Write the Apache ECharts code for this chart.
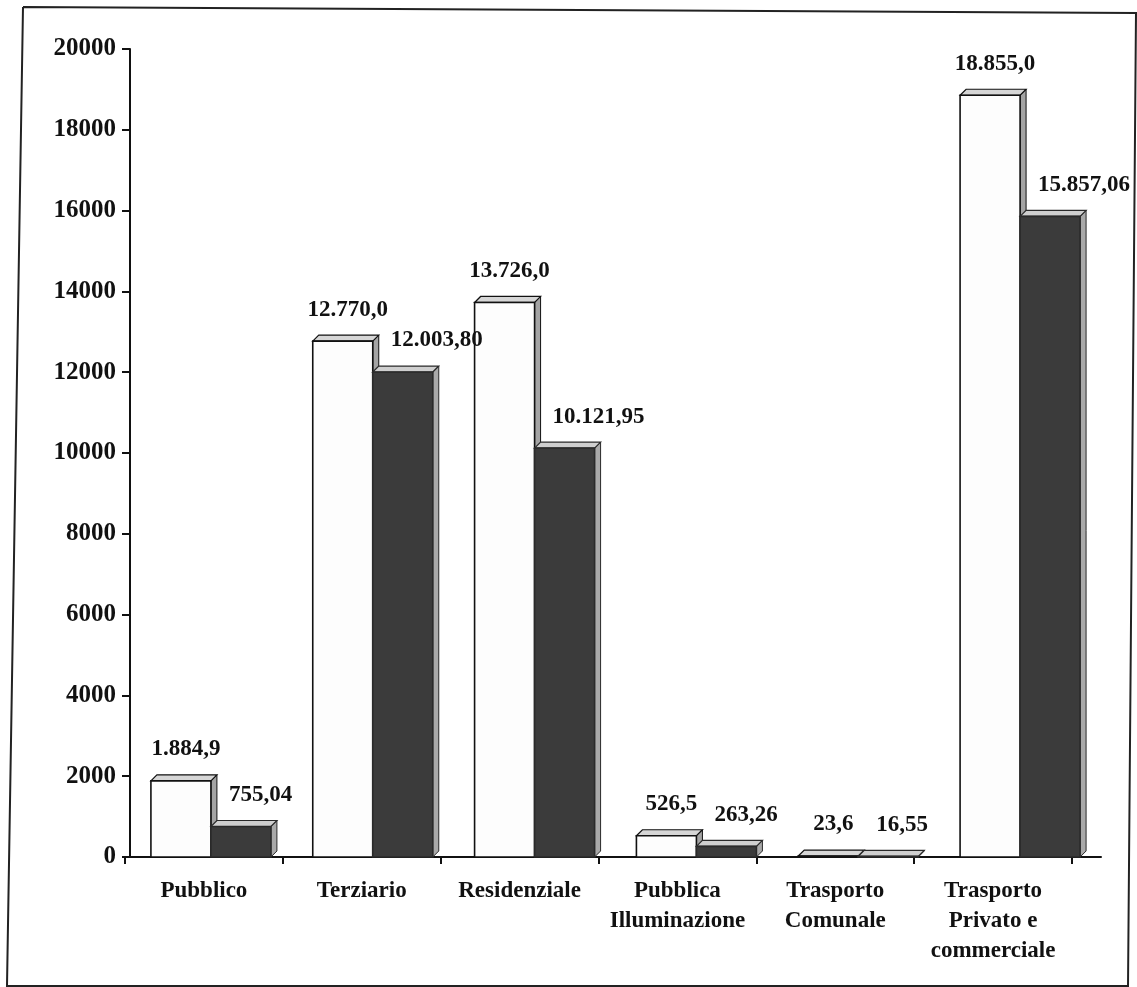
<!DOCTYPE html>
<html>
<head>
<meta charset="utf-8">
<script src="https://cdn.jsdelivr.net/npm/echarts@6/dist/echarts.min.js"></script>
<style>
html,body{margin:0;padding:0;background:#fff}
#chart{width:1137px;height:987px}
</style>
</head>
<body>
<div id="chart"></div>
<script>
// categorie e valori
const categorie = ['Pubblico', 'Terziario', 'Residenziale', 'Pubblica\nIlluminazione', 'Trasporto\nComunale', 'Trasporto\nPrivato e\ncommerciale'];
const valoriChiari = [1884.9, 12770.0, 13726.0, 526.5, 23.6, 18855.0];
const valoriScuri = [755.04, 12003.80, 10121.95, 263.26, 16.55, 15857.06];
const yMin = 0, yMax = 20000, yStep = 2000;

// formato numerico italiano: 12.003,80
function formatIt(v, dec) {
    let parts = v.toFixed(dec).split('.');
    parts[0] = parts[0].replace(/\B(?=(\d{3})+(?!\d))/g, '.');
    return parts.join(',');
}

const serif = '"Liberation Serif", "Times New Roman", serif';
const larghezza = 60;   // larghezza barra
const prof = 6;         // profondità effetto 3D

// barra "3D": fronte, lato destro e faccia superiore + etichetta
function barra3d(spost, fronte, lato, cima, bordo, dec, lab) {
    return function(params, api) {
        var idx = api.value(0);
        var base = api.coord([idx, 0]);
        var alto = api.coord([idx, api.value(1)]);
        var x0 = base[0] + spost - larghezza / 2;
        var x1 = x0 + larghezza;
        var yb = base[1], yt = alto[1];
        return {
            type: 'group',
            children: [{
                type: 'polygon',
                shape: { points: [[x1, yt], [x1 + prof, yt - prof], [x1 + prof, yb - prof], [x1, yb]] },
                style: { fill: lato, stroke: bordo, lineWidth: 1 }
            }, {
                type: 'polygon',
                shape: { points: [[x0, yt], [x0 + prof, yt - prof], [x1 + prof, yt - prof], [x1, yt]] },
                style: { fill: cima, stroke: bordo, lineWidth: 1.2 }
            }, {
                type: 'rect',
                shape: { x: x0, y: yt, width: larghezza, height: yb - yt },
                style: { fill: fronte, stroke: bordo, lineWidth: 1.6 }
            }, {
                type: 'text',
                x: (x0 + x1) / 2 + lab.dx,
                y: yt - 20,
                style: {
                    text: formatIt(api.value(1), dec),
                    fill: '#111',
                    font: 'bold 23px ' + serif,
                    align: lab.align,
                    verticalAlign: 'bottom'
                }
            }]
        };
    };
}

var myChart = echarts.init(document.getElementById('chart'));

var option = {
    animation: false,
    backgroundColor: '#fff',
    grid: [
        // griglia delle barre (più larga per la prospettiva)
        { left: 130, right: 36, top: 49, bottom: 130 },
        // griglia dell'asse delle categorie
        { left: 125, right: 65, top: 49, bottom: 130 }
    ],
    graphic: [{
        // cornice della pagina scansionata
        type: 'polyline',
        shape: { points: [[23, 7], [1136, 13], [1128, 986], [7, 986], [23, 7]] },
        style: { stroke: '#222', lineWidth: 2, fill: null },
        silent: true
    }],
    xAxis: [{
        type: 'category',
        gridIndex: 0,
        data: categorie,
        axisLine: { show: true, lineStyle: { color: '#111', width: 2 } },
        axisTick: { show: false },
        axisLabel: { show: false }
    }, {
        type: 'category',
        gridIndex: 1,
        data: categorie,
        axisLine: { show: true, lineStyle: { color: '#111', width: 2 } },
        axisTick: { show: true, length: 7, lineStyle: { color: '#111', width: 2 } },
        axisLabel: {
            color: '#111',
            fontFamily: serif,
            fontWeight: 'bold',
            fontSize: 23,
            lineHeight: 30,
            margin: 19,
            interval: 0
        }
    }],
    yAxis: [{
        type: 'value',
        gridIndex: 0,
        min: yMin,
        max: yMax,
        interval: yStep,
        splitLine: { show: false },
        axisLine: { show: true, lineStyle: { color: '#111', width: 2 } },
        axisTick: { show: true, length: 8, lineStyle: { color: '#111', width: 2 } },
        axisLabel: {
            color: '#111',
            fontFamily: serif,
            fontWeight: 'bold',
            fontSize: 25,
            margin: 14,
            formatter: function(v) { return String(v); }
        }
    }, {
        type: 'value',
        gridIndex: 1,
        min: yMin,
        max: yMax,
        interval: yStep,
        show: false
    }],
    series: [{
        name: 'chiaro',
        type: 'custom',
        xAxisIndex: 0,
        yAxisIndex: 0,
        data: valoriChiari.map(function(v, i) { return [i, v]; }),
        encode: { x: 0, y: 1 },
        renderItem: barra3d(-larghezza / 2, '#fdfdfd', '#a4a4a4', '#d6d6d6', '#111', 1, { dx: 5, align: 'center' })
    }, {
        name: 'scuro',
        type: 'custom',
        xAxisIndex: 0,
        yAxisIndex: 0,
        data: valoriScuri.map(function(v, i) { return [i, v]; }),
        encode: { x: 0, y: 1 },
        renderItem: barra3d(larghezza / 2, '#3b3b3b', '#a9a9a9', '#cfcfcf', '#2a2a2a', 2, { dx: -12, align: 'left' })
    }]
};

myChart.setOption(option);
</script>
</body>
</html>
